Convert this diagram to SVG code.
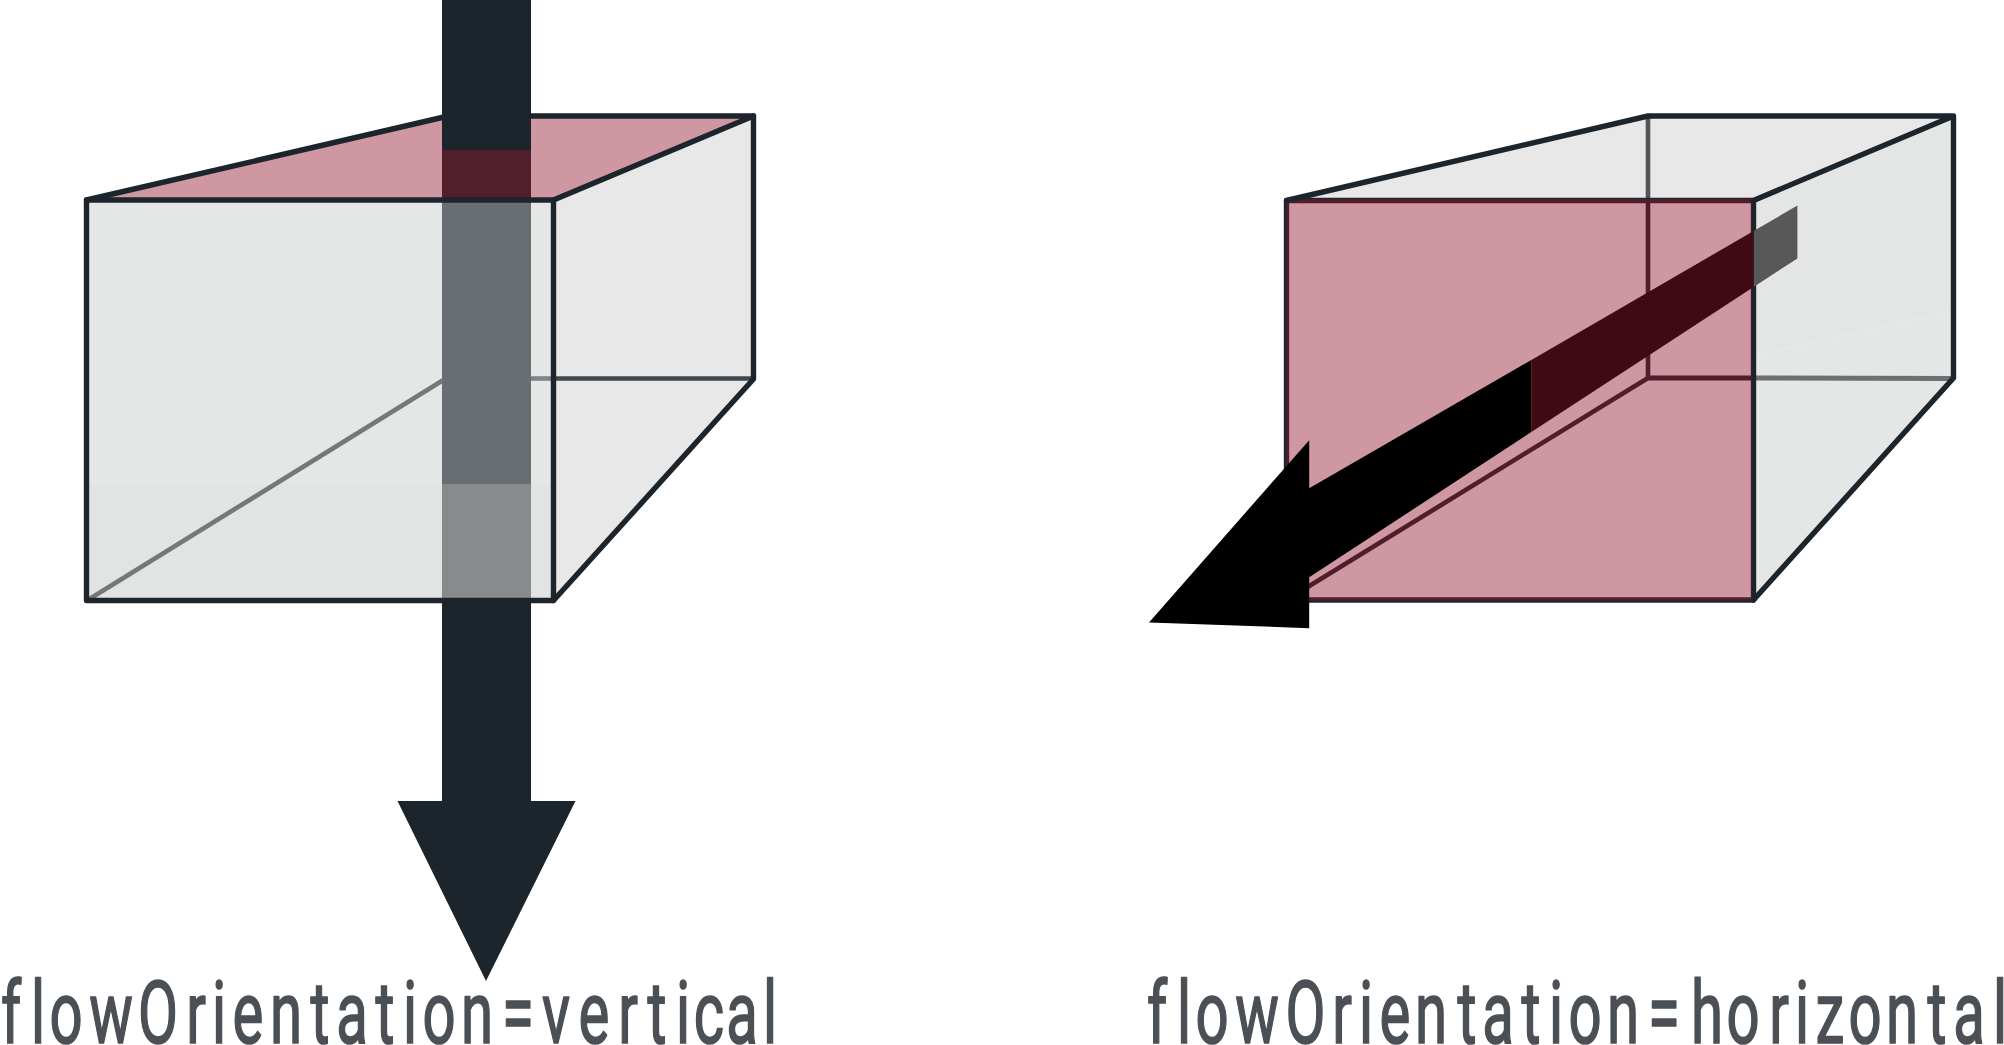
<svg xmlns="http://www.w3.org/2000/svg" width="2004" height="1045" viewBox="0 0 2004 1045">
<style>
.e{fill:none;stroke:#1c252c;stroke-width:5.4;stroke-linecap:round;stroke-linejoin:round}
.h{fill:none;stroke-width:4.6}
.g{fill:#e8e8e8}
.f{fill:#e5e7e6}
.l{fill:#e2e4e3}
.p{fill:#93152e;fill-opacity:.445}
.t{font-family:Roboto,"Liberation Sans",sans-serif;font-size:88px;fill:#4a5055;stroke:#4a5055;stroke-width:1.7;stroke-linejoin:round;text-anchor:middle}
</style>
<rect width="2004" height="1045" fill="#fff"/>
<g id="box-vertical">
<polygon class="g" points="553,200 753.5,116 753.5,379 553,600"/>
<polygon class="f" points="86.5,200 553,200 553,600.5 86.5,600.5"/>
<polygon class="l" points="86.5,484 553,484 553,600.5 86.5,600.5"/>
<polygon fill="#cf97a2" points="87,200 447,116 753.5,116 553,200"/>
<line class="h" x1="87" y1="600.5" x2="445" y2="379" stroke="#757778"/>
<line class="h" x1="530" y1="378.5" x2="553" y2="378.5" stroke="#7f8487"/>
<line class="h" x1="553" y1="378.5" x2="753" y2="378.5" stroke="#41484d"/>
</g>
<g id="box-horizontal">
<polygon class="g" points="1286.5,200 1648,116 1953.5,116 1753,200"/>
<polygon fill="#e4e6e5" points="1753,200 1953.5,116 1953.5,310 1753,356"/>
<polygon class="f" points="1753,356 1953.5,310 1953.5,378 1753,600"/>
<line class="h" x1="1648" y1="116" x2="1648" y2="200" stroke="#4f565b"/>
<line x1="1753" y1="378" x2="1952" y2="378.5" stroke="#6b7073" stroke-width="5"/>
<rect x="1286.5" y="201" width="465" height="398" fill="#fff"/>
<line x1="1648" y1="200" x2="1648" y2="378" stroke="#1c252c" stroke-width="4.6"/>
<line x1="1648" y1="378" x2="1753" y2="378" stroke="#1c252c" stroke-width="5"/>
<line x1="1286.5" y1="600" x2="1648" y2="378" stroke="#1c252c" stroke-width="4.6"/>
<path class="e" d="M1286.5,200.5H1753.5V600H1286.5Z"/>
<rect class="p" x="1286.5" y="199" width="465" height="401.5"/>
<path class="e" d="M1286.5,200.5L1648,116H1953.5L1753.5,200.5M1953.5,116V378L1753.5,600"/>
</g>
<g id="connectors">
<polygon fill="#1c252c" points="442,0 531,0 531,801 575.5,801 486,981 397.5,801 442,801"/>
<rect x="442" y="150" width="89" height="50" fill="#521e2b"/>
<rect x="442" y="200" width="89" height="284" fill="#696e72"/>
<rect x="442" y="484" width="89" height="116" fill="#888b8d"/>
<polygon fill="#585858" points="1797.4,205.6 1797.4,258.4 1753.6,287 1753.6,231"/>
<polygon fill="#3f0a14" points="1753.6,231 1753.6,287 1531.4,432 1531.4,360"/>
<polygon fill="#000" points="1531.4,360 1531.4,432 1309.2,577.3 1309.2,628.2 1149,622.4 1309.2,440.2 1309.2,488.2"/>
</g>
<g id="box-vertical-edges">
<path class="e" d="M86.5,200L442,117.5M531,116H753.5L553.5,200"/>
<path class="e" d="M753.5,116V379L553.5,600.5"/>
<path class="e" d="M86.5,200H553.5V600.5H86.5Z"/>
</g>
<g id="labels">
<text class="t" transform="scale(.66,1)" y="1043.5" x="16.7 57.6 100 168.2 239.4 297 331.8 375.8 433.3 484.8 533.3 583.3 621.2 665.2 722.7 784.8 842.4 900 951.5 995.5 1034.8 1074.2 1124.2 1166.7">flowOrientation=vertical</text>
<text class="t" transform="scale(.66,1)" y="1043.5" x="1753 1793.9 1836.4 1904.5 1978.2 2033.3 2069.7 2113.6 2168.2 2222.7 2269.7 2319.7 2357.6 2401.5 2459.1 2521.2 2586.4 2640.9 2695.5 2730.3 2772.7 2825.8 2881.8 2934.8 2983.3 3030.3">flowOrientation=horizontal</text>
</g>
</svg>
